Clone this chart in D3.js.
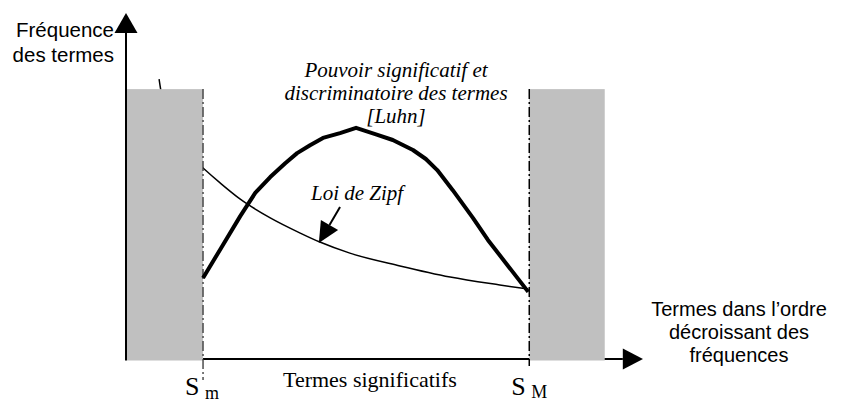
<!DOCTYPE html>
<html><head><meta charset="utf-8">
<script src="https://cdn.jsdelivr.net/npm/d3@7"></script>
<style>html,body{margin:0;padding:0;background:#fff;}svg{display:block;}</style>
</head><body>
<script>
// ---- data (arbitrary units: rank 0..100, frequency 0..100) ----
const thresholds = [{name:"S", sub:"m", rank:14.9}, {name:"S", sub:"M", rank:78.0}];
const zoneTop = 78.0;          // height of the grey "non-significant" zones
const rightZoneEnd = 92.6;     // end of right grey zone
const zipfRank = [6.4,6.7,7.2,7.9,9.1,10.6,12.6,14.9,18.2,22.1,27.9,33.7,37.5,43.3,53.0,62.7,72.3,77.8];
const zipfFreq = [80.9,78.0,74.3,69.9,65.3,61.6,58.4,55.2,50.9,46.2,40.8,36.4,33.8,30.6,26.9,23.7,21.4,20.2];
const luhnRank = [14.9,18.4,22.1,25.0,27.9,30.8,33.1,35.6,38.1,41.4,44.5,48.2,51.6,55.5,58.0,60.2,63.2,67.1,70.0,73.9,77.8];
const luhnPower = [23.4,32.1,41.3,48.0,52.6,56.6,59.5,61.8,63.9,65.3,66.8,65.0,63.3,60.4,57.8,54.6,48.8,40.8,34.4,26.9,19.4];
const yTitle = ["Fréquence", "des termes"];
const xTitle = ["Termes dans l’ordre", "décroissant des", "fréquences"];
const luhnLabel = ["Pouvoir significatif et", "discriminatoire des termes", "[Luhn]"];
const zipfLabel = "Loi de Zipf";
const zipfArrow = {from:[41.4,43.9], to:[37.3,33.5]};
const middleLabel = "Termes significatifs";

const W = 842, H = 403;
const svg = d3.select("body").append("svg").attr("width", W).attr("height", H);
const x = d3.scaleLinear().domain([0,100]).range([126,643]);
const y = d3.scaleLinear().domain([0,100]).range([359,13]);

const zipf = zipfRank.map((r,i)=>[r, zipfFreq[i]]);
const luhn = luhnRank.map((r,i)=>[r, luhnPower[i]]);
const line = d3.line().x(d=>x(d[0])).y(d=>y(d[1]));

// Zipf curve (partly hidden by grey zone)
svg.append("path").attr("d", line.curve(d3.curveMonotoneX)(zipf))
  .attr("fill","none").attr("stroke","#000").attr("stroke-width",1.5);

// x axis line (under grey zones)
svg.append("line").attr("x1", x(0)).attr("x2", x(96.1)).attr("y1", y(0)).attr("y2", y(0))
  .attr("stroke","#000").attr("stroke-width",2);
svg.append("path").attr("d", `M${x(100)},${y(0)} L${x(96.1)},${y(0)-10.5} L${x(96.1)},${y(0)+10.5} Z`).attr("fill","#000");

// grey zones
svg.append("rect").attr("x", x(0)+1).attr("y", y(zoneTop)).attr("width", x(thresholds[0].rank)-x(0)-1)
  .attr("height", y(0)-y(zoneTop)+1.5).attr("fill","#c0c0c0");
svg.append("rect").attr("x", x(thresholds[1].rank)).attr("y", y(zoneTop)).attr("width", x(rightZoneEnd)-x(thresholds[1].rank))
  .attr("height", y(0)-y(zoneTop)+1.5).attr("fill","#c0c0c0");

// threshold dash-dot lines
svg.append("line").attr("x1", x(thresholds[0].rank)).attr("x2", x(thresholds[0].rank))
  .attr("y1", y(zoneTop)).attr("y2", y(0)+21).attr("stroke","#333").attr("stroke-width",1.3).attr("stroke-dasharray","10,3,2,3");
svg.append("line").attr("x1", x(thresholds[1].rank)).attr("x2", x(thresholds[1].rank))
  .attr("y1", y(zoneTop)).attr("y2", y(0)+7).attr("stroke","#000").attr("stroke-width",1.5).attr("stroke-dasharray","10,3,2,3");

// Luhn curve
svg.append("path").attr("d", line.curve(d3.curveLinear)(luhn))
  .attr("fill","none").attr("stroke","#000").attr("stroke-width",4).attr("stroke-linejoin","round");

// y axis
svg.append("line").attr("x1", x(0)).attr("x2", x(0)).attr("y1", y(0)+1.5).attr("y2", y(94.2))
  .attr("stroke","#000").attr("stroke-width",2);
svg.append("path").attr("d", `M${x(0)},${y(100)} L${x(0)-11.5},${y(94.2)} L${x(0)+11.5},${y(94.2)} Z`).attr("fill","#000");

// Zipf annotation arrow
{
  const x1 = x(zipfArrow.from[0]), y1 = y(zipfArrow.from[1]);
  const x2 = x(zipfArrow.to[0]), y2 = y(zipfArrow.to[1]);
  const dx = x2-x1, dy = y2-y1, L = Math.hypot(dx,dy), ux = dx/L, uy = dy/L;
  const bx = x2-ux*21, by = y2-uy*21, px = -uy*10, py = ux*10;
  svg.append("line").attr("x1",x1).attr("y1",y1).attr("x2",bx).attr("y2",by).attr("stroke","#000").attr("stroke-width",2);
  svg.append("path").attr("d",`M${x2},${y2} L${bx+px},${by+py} L${bx-px},${by-py} Z`).attr("fill","#000");
}

// texts
const sans = "'Liberation Sans', Arial, sans-serif", serif = "'Liberation Serif', 'Times New Roman', serif";
svg.selectAll(".yt").data(yTitle).enter().append("text")
  .attr("x",114).attr("y",(d,i)=>37+i*25).attr("text-anchor","end")
  .style("font-family",sans).style("font-size","20.5px").text(d=>d);
svg.selectAll(".xt").data(xTitle).enter().append("text")
  .attr("x",739).attr("y",(d,i)=>316+i*23).attr("text-anchor","middle")
  .style("font-family",sans).style("font-size","20px").text(d=>d);
svg.selectAll(".ll").data(luhnLabel).enter().append("text")
  .attr("x",396).attr("y",(d,i)=>77+i*23).attr("text-anchor","middle")
  .style("font-family",serif).style("font-style","italic").style("font-size","21px").text(d=>d);
svg.append("text").attr("x",311).attr("y",200)
  .style("font-family",serif).style("font-style","italic").style("font-size","21px").text(zipfLabel);
svg.append("text").attr("x",283).attr("y",387)
  .style("font-family",serif).style("font-size","22px").text(middleLabel);
thresholds.forEach(t=>{
  svg.append("text").attr("x", x(t.rank)-18).attr("y",395)
    .style("font-family",serif).style("font-size","26px").text(t.name);
  svg.append("text").attr("x", x(t.rank)+2).attr("y",t.sub==="m"?399:398)
    .style("font-family",serif).style("font-size","18px").text(t.sub);
});
</script>
</body></html>
